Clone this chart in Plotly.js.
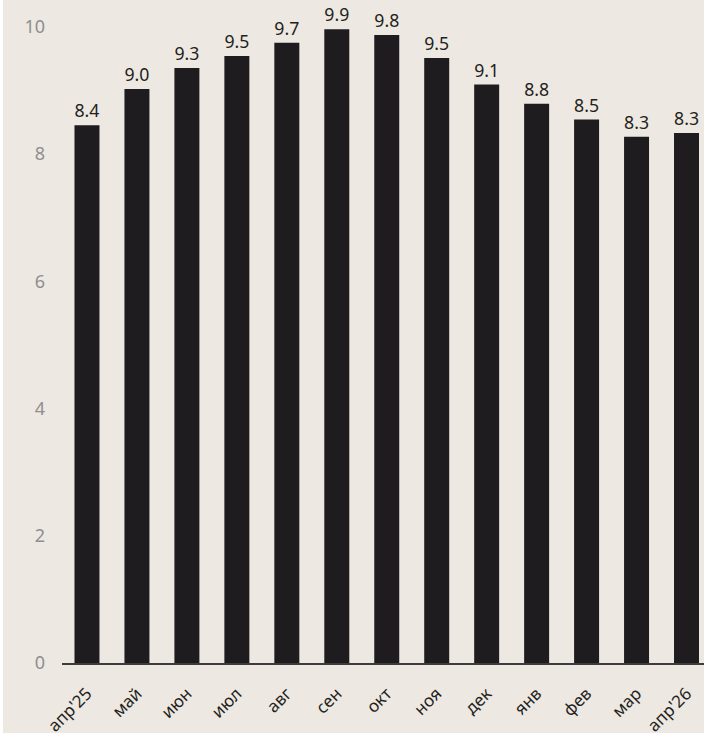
<!DOCTYPE html>
<html><head><meta charset="utf-8">
<script src="https://cdn.plot.ly/plotly-3.0.1.min.js"></script>
<style>html,body{margin:0;padding:0;background:#ffffff;}#c{position:absolute;left:3px;top:0;width:701px;height:733px;}</style>
</head><body><div id="c"></div>
<script>
const categories = ["апр'25","май","июн","июл","авг","сен","окт","ноя","дек","янв","фев","мар","апр'26"];
const values = [8.45, 9.02, 9.35, 9.54, 9.75, 9.96, 9.87, 9.51, 9.09, 8.79, 8.54, 8.27, 8.33];
const valueLabels = ["8.4","9.0","9.3","9.5","9.7","9.9","9.8","9.5","9.1","8.8","8.5","8.3","8.3"];
const yTicks = [0, 2, 4, 6, 8, 10];

const bg = "#eee8e2";
Plotly.newPlot("c", [{
  type: "bar",
  x: categories,
  y: values,
  text: valueLabels,
  textposition: "outside",
  cliponaxis: false,
  textfont: {family: "Noto Sans", size: 18, color: "#231f20"},
  marker: {color: "#1e1c1f"},
  hoverinfo: "skip"
}], {
  width: 701, height: 733,
  paper_bgcolor: bg, plot_bgcolor: bg,
  margin: {l: 58.5, r: 0, t: 0, b: 70},
  bargap: 0.5,
  showlegend: false,
  xaxis: {
    type: "category",
    range: [-0.5, 12.35],
    showline: true, linecolor: "#3c3c3c", linewidth: 2,
    ticks: "", tickangle: -45, ticklabelstandoff: 12,
    tickfont: {family: "Noto Sans", size: 17, color: "#231f20"},
    showgrid: false, zeroline: false
  },
  yaxis: {
    range: [0, 10.42],
    tickvals: yTicks,
    ticktext: yTicks.map(String),
    showgrid: false, zeroline: false, showline: false,
    ticks: "", ticklabelstandoff: 16,
    tickfont: {family: "Noto Sans", size: 18, color: "#8f8f8f"}
  }
}, {displayModeBar: false, staticPlot: true});
</script></body></html>
